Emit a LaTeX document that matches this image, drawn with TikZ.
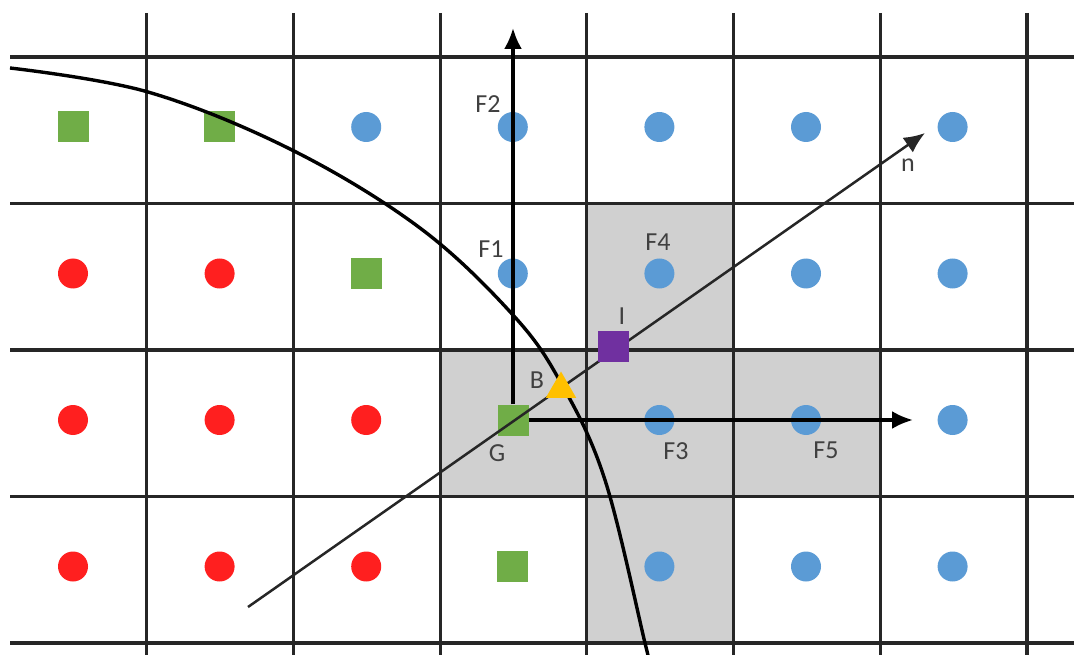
\documentclass[tikz,border=0pt]{standalone}
\usepackage{fontspec}
\setmainfont{Carlito}
\usetikzlibrary{arrows.meta,shapes.geometric}
\definecolor{cblue}{HTML}{5B9BD5}
\definecolor{cred}{HTML}{FF1F1F}
\definecolor{cgreen}{HTML}{70AD47}
\definecolor{cpurple}{HTML}{7030A0}
\definecolor{cyellow}{HTML}{FFC000}
\definecolor{cshade}{HTML}{D0D0D0}
\definecolor{ctext}{HTML}{404040}
\begin{document}
\begin{tikzpicture}[x=1pt, y=-1pt, >={Latex[length=21pt,width=18pt]},
    gridline/.style={line width=3.2pt, draw=black!85},
    fluid/.style={circle, fill=cblue, inner sep=0pt, minimum size=30pt},
    solid/.style={circle, fill=cred, inner sep=0pt, minimum size=30pt},
    ghost/.style={rectangle, fill=cgreen, inner sep=0pt, minimum size=31pt},
    lbl/.style={text=ctext, font=\fontsize{26}{26}\selectfont, inner sep=0pt}]
    \useasboundingbox (0,0) rectangle (1074,655);

    % Zellen der Interpolation
    \fill[cshade] (440,350) rectangle (880.2,496.5);
    \fill[cshade] (586.8,203.5) rectangle (733.5,643);

    % Gitter
    \foreach \j in {0,...,4}
        \draw[gridline] (10,57+146.5*\j) -- (1074,57+146.5*\j);
    \foreach \i in {1,...,7}
        \draw[gridline] (146.7*\i,13) -- (146.7*\i,655);

    % Fluidpunkte
    \foreach \c/\r/\nm in {2/0/f20, 3/0/F2, 4/0/f40, 5/0/f50, 6/0/f60,
                           3/1/F1, 4/1/F4, 5/1/f51, 6/1/f61,
                           4/2/F3, 5/2/F5, 6/2/f62,
                           4/3/f43, 5/3/f53, 6/3/f63}
        \node[fluid] (\nm) at (73+146.6*\c,127+146.5*\r) {};
    % Festkoerperpunkte
    \foreach \c/\r in {0/1, 1/1, 0/2, 1/2, 2/2, 0/3, 1/3, 2/3}
        \node[solid] (s\c\r) at (73+146.6*\c,127+146.5*\r) {};
    % Ghostpunkte
    \foreach \c/\r in {0/0, 1/0, 2/1, 3/3}
        \node[ghost] (g\c\r) at (73+146.6*\c,127+146.5*\r) {};
    \node[ghost] (G) at (513,420) {};

    % Rand
    \draw[line width=3.4pt, black] plot[smooth, tension=0.6] coordinates
        {(10,68) (148,92) (292,150) (420,228) (513,315) (561,383) (605,480) (645,643) (648,656)};

    % Richtungen
    \coordinate (up) at (513,28);
    \coordinate (right) at (913,420);
    \draw[->, line width=3.2pt] (G) -- (up);
    \draw[->, line width=3.2pt] (G) -- (right);

    % Normale
    \coordinate (n0) at (248,607);
    \coordinate (n1) at (925,133);
    \draw[->, line width=2.5pt, black!85] (n0) -- (n1);

    \node[regular polygon, regular polygon sides=3, fill=cyellow, inner sep=0pt, minimum size=35pt] (B) at (561,389) {};
    \node[rectangle, fill=cpurple, inner sep=0pt, minimum size=31pt] (I) at (613,346) {};

    % Beschriftung
    \node[lbl] (lF2) at (488,104) {F2};
    \node[lbl] (lF1) at (491,249) {F1};
    \node[lbl] (lF4) at (658,242) {F4};
    \node[lbl] (lI) at (622,316) {I};
    \node[lbl] (lB) at (537,380) {B};
    \node[lbl] (lG) at (497,453) {G};
    \node[lbl] (lF3) at (676,451) {F3};
    \node[lbl] (lF5) at (826,450) {F5};
    \node[lbl] (ln) at (908,165) {n};
\end{tikzpicture}
\end{document}
